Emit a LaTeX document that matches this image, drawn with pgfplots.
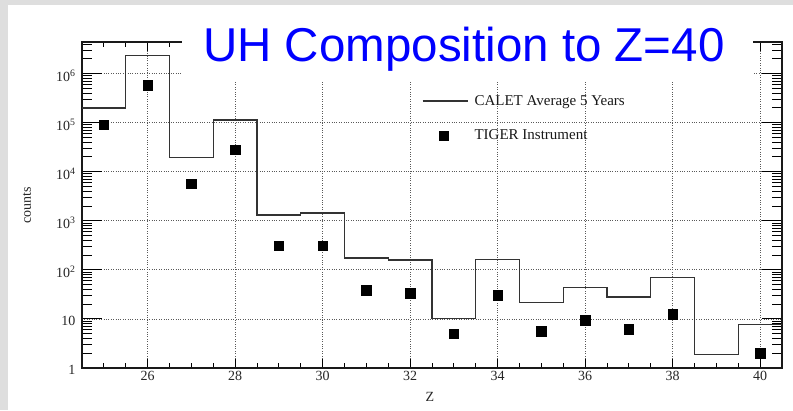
\documentclass[border=0pt]{standalone}
\usepackage{fontspec}
\setmainfont{Liberation Serif}
\newfontfamily\titlefont{Liberation Sans}
\usepackage{pgfplots}
\pgfplotsset{compat=1.18}
\begin{document}
\begin{tikzpicture}[x=1pt,y=1pt]
\fill[black!13] (0,0) rectangle (793,410);
\fill[white] (8,0) rectangle (793,405);
\begin{axis}[
  at={(82pt,42pt)}, anchor=south west,
  scale only axis, width=700pt, height=326pt,
  xmin=24.5, xmax=40.5,
  ymode=log, ymin=1, ymax=4.4e6,
  xtick={26,28,...,40},
  minor xtick={25,25.5,26.5,27,27.5,28.5,29,29.5,30.5,31,31.5,32.5,33,33.5,34.5,35,35.5,36.5,37,37.5,38.5,39,39.5},
  ytick={1,10,100,1000,10000,100000,1000000},
  yticklabels={1,10,10\textsuperscript{2},10\textsuperscript{3},10\textsuperscript{4},10\textsuperscript{5},10\textsuperscript{6}},
  minor ytick={2,3,4,5,6,7,8,9,20,30,40,50,60,70,80,90,200,300,400,500,600,700,800,900,2000,3000,4000,5000,6000,7000,8000,9000,20000,30000,40000,50000,60000,70000,80000,90000,200000,300000,400000,500000,600000,700000,800000,900000,2000000,3000000,4000000},
  /pgf/number format/assume math mode=true,
  tick align=inside, tick pos=both,
  xticklabel pos=left, yticklabel pos=left,
  every major x tick/.append style={/pgfplots/major tick length=9pt},
  every minor x tick/.append style={/pgfplots/minor tick length=5pt},
  every major y tick/.append style={/pgfplots/major tick length=20pt},
  every minor y tick/.append style={/pgfplots/minor tick length=10pt},
  every tick/.append style={black, line width=1pt},
  axis line style={line width=1.4pt, black!90},
  grid=major,
  major grid style={dotted, black!65, line width=0.8pt},
  ticklabel style={font=\fontsize{14}{16}\selectfont, black!85},
  yticklabel style={xshift=-3pt, yshift=-2pt},
  xlabel={Z}, ylabel={counts},
  label style={font=\fontsize{14}{16}\selectfont, black!85},
  xlabel style={at={(axis description cs:0.497,-0.089)}, anchor=center},
  ylabel style={at={(axis description cs:-0.0786,0.5)}, anchor=center},
  legend style={draw=none, fill=none, at={(axis description cs:0.481,0.849)}, anchor=north west,
    font=\fontsize{15}{17}\selectfont, row sep=19pt, text=black!90},
  legend cell align=left,
]
\addplot[const plot, black!80, line width=1.3pt,
  legend image code/.code={\path[draw=none,fill=none] (0pt,-1pt) rectangle (50pt,1pt); \draw[black!80, line width=1.3pt] (0pt,0pt) -- (45pt,0pt);}]
  coordinates {
  (24.5,2.0e5) (25.5,2.35e6) (26.5,1.95e4) (27.5,1.13e5) (28.5,1320) (29.5,1440)
  (30.5,174) (31.5,158) (32.5,10.1) (33.5,160) (34.5,21.9) (35.5,44) (36.5,28)
  (37.5,69.5) (38.5,1.9) (39.5,7.8) (40.5,7.8)};
\addlegendentry{CALET Average 5 Years}
\addplot[only marks, mark=square*, mark size=4.8pt, black,
  legend image code/.code={\path[draw=none,fill=none] (0pt,-1pt) rectangle (50pt,1pt); \fill[black] (16.4pt,-4.6pt) rectangle (25.6pt,4.6pt);}]
  coordinates {
  (25,9.1e4) (26,5.8e5) (27,5.7e3) (28,2.8e4) (29,309) (30,310) (31,38) (32,33.5)
  (33,5.0) (34,30.5) (35,5.7) (36,9.4) (37,6.2) (38,12.5) (40,2.0)};
\addlegendentry{TIGER Instrument}
\end{axis}
\fill[white] (182,328) rectangle (753,405);
\node[anchor=base west, inner sep=0, text=blue, font=\titlefont\fontsize{47.5}{50}\selectfont] at (203,348) {UH Composition to Z=40};
\pgfresetboundingbox
\path[use as bounding box] (0,0) rectangle (793,410);
\end{tikzpicture}
\end{document}
